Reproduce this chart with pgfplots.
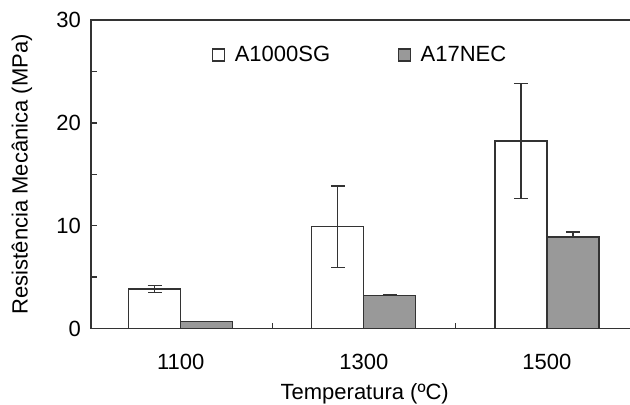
\documentclass[border=0pt]{standalone}
\usepackage{fontspec}
\setmainfont{Liberation Sans}
\usepackage{pgfplots}
\pgfplotsset{compat=1.18}

\definecolor{linegray}{HTML}{333333}
\definecolor{bargray}{HTML}{999999}

\begin{document}
\begin{tikzpicture}[font=\fontsize{16.5}{19}\selectfont]
% visible region of the original (the right spine lies outside it)
\useasboundingbox (-68.25pt,-56.6pt) rectangle (404.25pt,246.4pt);
\clip (-68.25pt,-56.6pt) rectangle (404.25pt,246.4pt);
\begin{scope}[overlay]
\begin{axis}[
  scale only axis,
  width=410.6pt, height=231.4pt,
  ybar=0pt, bar width=39pt,
  xmin=-0.49, xmax=2.5, ymin=0, ymax=30,
  axis line style={linegray, line width=1.1pt},
  tick align=inside,
  xtick pos=bottom, ytick pos=left,
  major tick length=4.5pt, minor tick length=4.5pt,
  tick style={linegray, line width=1pt},
  xtick={0.5,1.5,2.5}, xticklabels={},
  extra x ticks={0,1,2},
  extra x tick labels={1100,1300,1500},
  extra x tick style={major tick length=0pt,
    xticklabel style={yshift=-16pt}},
  ytick={0,10,20,30}, minor ytick={5,15,25},
  yticklabel style={xshift=-4pt},
  /pgf/number format/assume math mode=true,
  xlabel={Temperatura (ºC)},
  xlabel style={at={(rel axis cs:0.5,0)}, anchor=base, yshift=-53pt},
  ylabel={Resistência Mecânica (MPa)},
  ylabel style={at={(axis description cs:-0.126,0.5)}, anchor=center},
  legend columns=2,
  legend style={draw=none, fill=none, inner sep=0pt,
    at={(rel axis cs:0.221,0.8865)}, anchor=west,
    /tikz/every odd column/.append style={column sep=5pt},
    /tikz/every even column/.append style={column sep=49pt},
    nodes={inner sep=2pt, anchor=west}},
  error bars/error bar style={linegray, line width=1pt},
  error bars/error mark options={linegray, line width=1pt, rotate=90, mark size=5.25pt},
]
\addplot[draw=linegray, line width=1pt, fill=white,
  legend image code/.code={\draw[draw=linegray, line width=0.9pt, fill=white] (0pt,-4.5pt) rectangle (9pt,4.5pt);},
  error bars/.cd, y dir=both, y explicit]
  coordinates {
  (0,3.85) +- (0,0.35)
  (1,9.9)  +- (0,3.95)
  (2,18.25) +- (0,5.6)
};
\addplot[draw=linegray, line width=1pt, fill=bargray,
  legend image code/.code={\draw[draw=linegray, line width=0.9pt, fill=bargray] (0pt,-4.5pt) rectangle (9pt,4.5pt);},
  error bars/.cd, y dir=plus, y explicit]
  coordinates {
  (0,0.7) +- (0,0)
  (1,3.2) +- (0,0.1)
  (2,8.9) +- (0,0.5)
};
\legend{A1000SG, A17NEC}
\end{axis}
\end{scope}
\end{tikzpicture}
\end{document}
